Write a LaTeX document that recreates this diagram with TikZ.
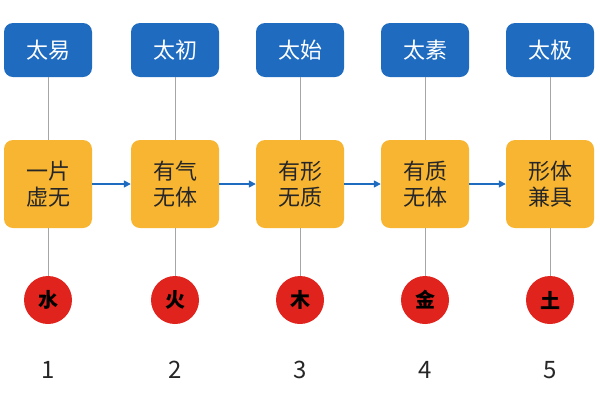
\documentclass[tikz,border=0pt]{standalone}
\usepackage{fontspec}
\setmainfont{Noto Sans CJK SC}
\usetikzlibrary{arrows.meta}
\definecolor{tb}{HTML}{1E6BC0}
\definecolor{to}{HTML}{F7B532}
\definecolor{tr}{HTML}{E0231C}
\tikzset{
 topbox/.style={fill=tb,rounded corners=9pt,minimum width=88pt,minimum height=54pt,text=white,font=\fontsize{22}{24}\selectfont},
 midbox/.style={fill=to,rounded corners=9pt,minimum width=88pt,minimum height=88pt,text=black!85,font=\fontsize{22}{26}\selectfont,align=center},
 elem/.style={circle,fill=tr,minimum size=48pt,inner sep=0pt,font=\bfseries\fontsize{20}{22}\selectfont},
 num/.style={font=\fontsize{24}{26}\selectfont,text=black!85},
 vline/.style={draw=gray!70,line width=1pt},
 flow/.style={draw=tb,line width=1.5pt,-{Triangle[length=7pt,width=7pt]}}
}
\begin{document}
\begin{tikzpicture}[x=1pt,y=-1pt]
\useasboundingbox (0,0) rectangle (600,400);
\foreach \i/\x/\t/\m/\e in {1/48/太易/一片\\虚无/水,2/175/太初/有气\\无体/火,3/300/太始/有形\\无质/木,4/425/太素/有质\\无体/金,5/550/太极/形体\\兼具/土}{
 \node[topbox] (t\i) at (\x,50) {\t};
 \node[midbox] (m\i) at (\x,184) {\m};
 \node[elem] (e\i) at (\x,300) {\e};
 \node[num] (n\i) at (\x,370) {\i};
 \draw[vline] (t\i) -- (m\i);
 \draw[vline] (m\i) -- (e\i);
}
\foreach \a/\b in {1/2,2/3,3/4,4/5} \draw[flow] (m\a) -- (m\b);
\end{tikzpicture}
\end{document}
